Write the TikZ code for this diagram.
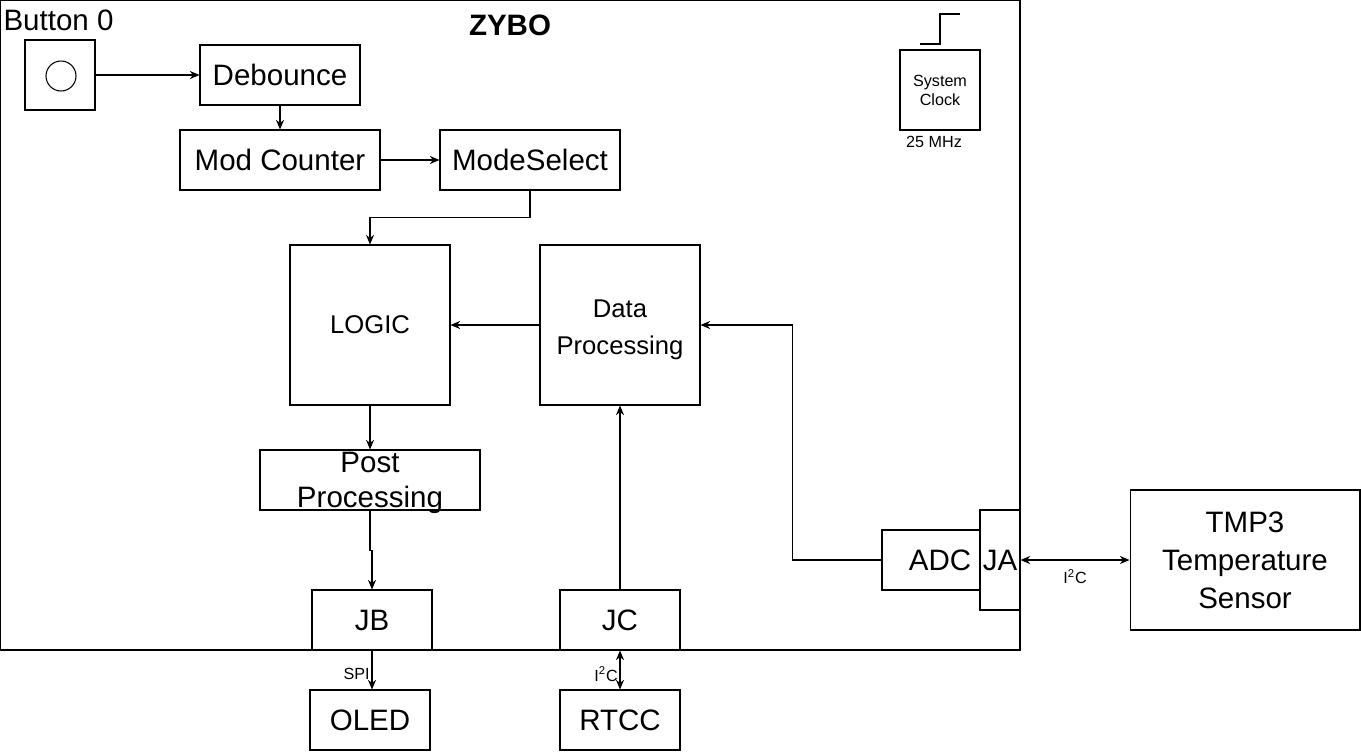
\documentclass[tikz,border=0pt]{standalone}
\usepackage{fontspec}
\setmainfont{Liberation Sans}
\usepackage{tikz}
\usetikzlibrary{arrows.meta}
\usetikzlibrary{positioning}
\usetikzlibrary{calc}

\newcommand{\bigtxt}{\fontsize{16.8}{20.2}\selectfont}
\newcommand{\midtxt}{\fontsize{14.6}{21}\selectfont}
\newcommand{\smalltxt}{\fontsize{9.2}{10.8}\selectfont}

\tikzset{
	blk/.style={draw,inner sep=0pt,align=center,font=\bigtxt},
	arr/.style={-{Stealth[length=5.5pt,width=4.6pt]}},
	dbl/.style={{Stealth[length=5.5pt,width=4.6pt]}-{Stealth[length=5.5pt,width=4.6pt]}},
	lbl/.style={font=\smalltxt,inner sep=1pt}
}

\begin{document}
\begin{tikzpicture}[x=0.02cm,y=-0.02cm,line width=0.6pt]
	\useasboundingbox (0,0) rectangle (1361,751);
	% board
	\draw (0.5,0.5) rectangle (1020,650);
	\node[font=\bigtxt\bfseries] (zybo) at (510,25) {ZYBO};

	% button
	\node[font=\bigtxt,anchor=west,inner sep=0pt] (btnlbl) at (3,20) {Button 0};
	\node[blk,minimum width=1.4cm,minimum height=1.4cm] (btn) at (60,75) {};
	\node[draw,circle,minimum size=0.6cm,inner sep=0pt] (btnc) at (61,76) {};
	\node[blk,minimum width=3.2cm,minimum height=1.2cm] (deb) at (280,75) {Debounce};
	\node[blk,minimum width=4cm,minimum height=1.2cm] (modc) at (280,160) {Mod Counter};
	\node[blk,minimum width=3.6cm,minimum height=1.2cm] (msel) at (530,160) {ModeSelect};

	% clock
	\node[blk,font=\smalltxt,minimum width=1.6cm,minimum height=1.6cm] (clk) at (940,90) {System\\Clock};
	\node[lbl] (clkf) at (934,142) {25 MHz};
	\draw (920,44) -- (940,44) -- (940,14) -- (960,14);

	% processing
	\node[blk,font=\midtxt,minimum width=3.2cm,minimum height=3.2cm] (logic) at (370,325) {LOGIC};
	\node[blk,minimum width=3.2cm,minimum height=3.2cm,
		label={[font=\midtxt,align=center,inner sep=0pt,yshift=-0.1cm]center:Data\\Processing}] (dp) at (620,325) {};
	\node[blk,minimum width=4.4cm,minimum height=1.2cm,
		label={[font=\bigtxt,align=center,inner sep=0pt,yshift=-0.06cm]center:Post\\Processing}] (pp) at (370,480) {};

	% ports
	\node[blk,minimum width=2.4cm,minimum height=1.2cm] (jb) at (372,620) {JB};
	\node[blk,minimum width=2.4cm,minimum height=1.2cm] (jc) at (620,620) {JC};
	\node[blk,minimum width=1.96cm,minimum height=1.2cm,
		label={[font=\bigtxt,xshift=0.18cm,inner sep=0pt]center:ADC}] (adc) at (931,560) {};
	\node[blk,fill=white,minimum width=0.8cm,minimum height=2cm] (ja) at (1000,560) {JA};

	% peripherals
	\node[blk,minimum width=2.4cm,minimum height=1.2cm] (oled) at (370,720) {OLED};
	\node[blk,minimum width=2.4cm,minimum height=1.2cm] (rtcc) at (620,720) {RTCC};
	\node[blk,font=\fontsize{16.8}{21.6}\selectfont,minimum width=4.6cm,minimum height=2.8cm] (tmp) at (1245,560) {TMP3\\Temperature\\Sensor};

	% connections
	\draw[arr] (btn) -- (deb);
	\draw[arr] (deb) -- (modc);
	\draw[arr] (modc) -- (msel);
	\draw[arr] (msel.south) -- ++(0,27) -| (logic.north);
	\draw[arr] (dp) -- (logic);
	\draw[arr] (logic) -- (pp);
	\draw[arr] (pp.south) -- ++(0,40) -| (jb.north);
	\draw[arr] (jc) -- (dp);
	\draw[arr] (adc.west) -- ++(-89,0) |- (dp.east);
	\draw[arr] (jb.south) -- (jb.south |- oled.north) node[lbl,midway,left,yshift=-0.08cm] {SPI};
	\draw[dbl] (jc.south) -- (rtcc.north) node[lbl,midway,left,yshift=-0.08cm] {I\textsuperscript{2}C};
	\draw[dbl] (ja.east) -- (tmp.west) node[lbl,midway,below,yshift=-0.14cm] {I\textsuperscript{2}C};
\end{tikzpicture}
\end{document}
